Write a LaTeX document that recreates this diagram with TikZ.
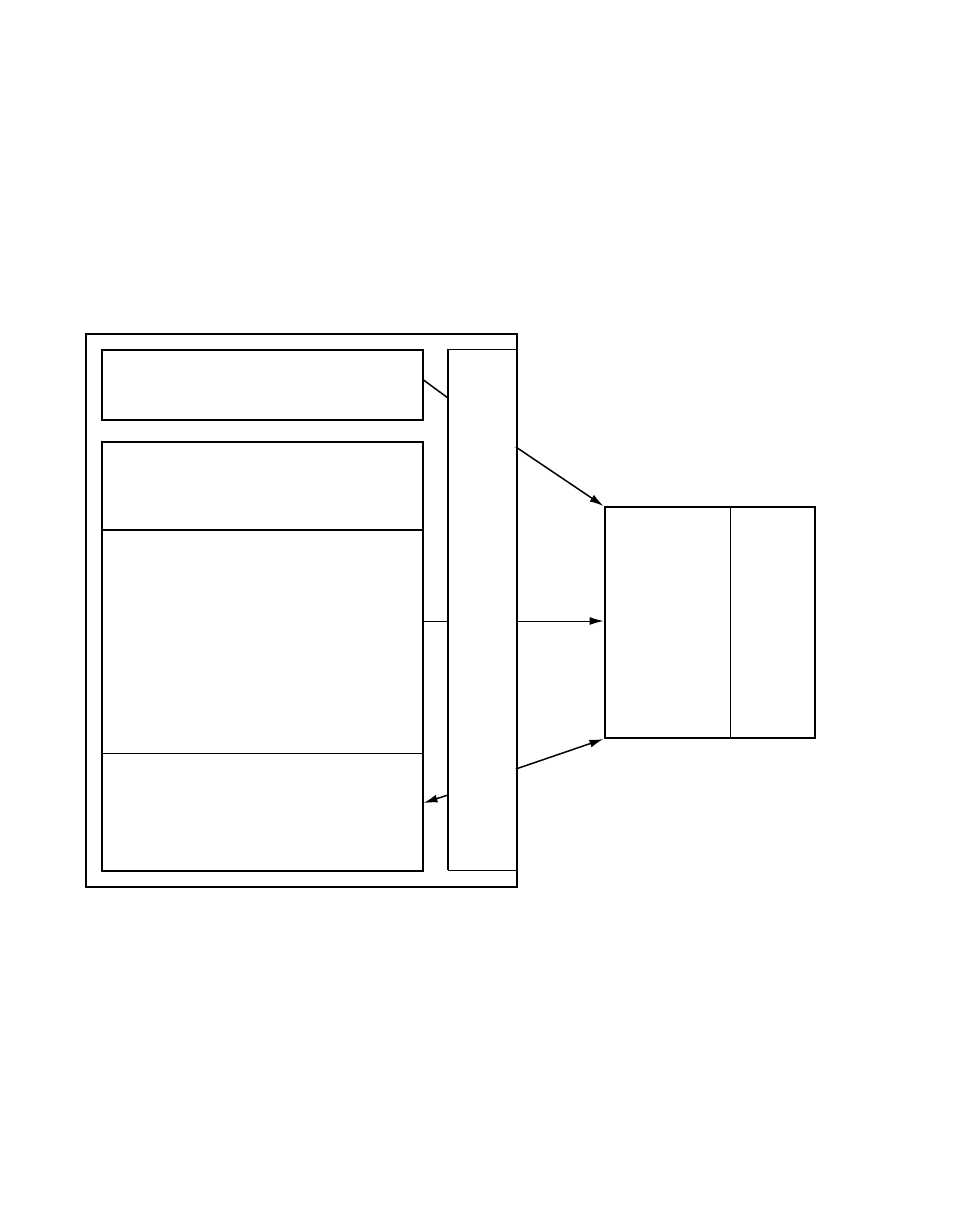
\documentclass[tikz,border=0pt]{standalone}
\usetikzlibrary{arrows.meta,calc}
\begin{document}
\begin{tikzpicture}[x=1bp,y=-1bp,
  box/.style={draw, line width=2bp, rectangle, inner sep=0pt, anchor=north west},
  ghost/.style={rectangle, inner sep=0pt, anchor=north west},
  thinline/.style={line width=1bp},
  midline/.style={line width=1.5bp},
  arr/.style={-{Latex[length=14bp,width=8bp]}}]
\useasboundingbox (0,0) rectangle (954,1227);
\node[box, minimum width=431bp, minimum height=553bp] (outer) at (84.5,333) {};
\node[box, minimum width=321bp, minimum height=70bp] (top) at (100.5,349) {};
\node[box, minimum width=321bp, minimum height=429bp] (big) at (100.5,441) {};
\node[ghost, minimum width=67.5bp, minimum height=521bp] (bus) at (448,349) {};
\node[box, minimum width=210bp, minimum height=231bp] (right) at (603.5,506) {};
% bus edges
\draw[line width=2bp] (bus.north west) -- (bus.south west);
\draw[thinline] (bus.north west) -- (bus.north east);
\draw[thinline] (bus.south west) -- (bus.south east);
% big box dividers
\draw[line width=2bp] ($(big.north west)+(2,89)$) -- ($(big.north east)+(0,89)$);
\draw[thinline] ($(big.north west)+(0,312)$) -- ($(big.north east)+(0,312)$);
% right box divider
\draw[thinline] ($(right.north west)+(127,0)$) -- ($(right.south west)+(127,0)$);
% connectors
\coordinate (src) at ($(bus.north east)+(0,272)$);
\draw[midline] ($(top.north east)+(0,31)$) -- ($(bus.north west)+(0,49)$);
\draw[midline,arr] ($(bus.north east)+(0,98)$) -- (right.north west);
\draw[thinline] ($(big.north east)+(0,180)$) -- ($(bus.north west)+(0,272)$);
\draw[thinline,arr] (src) -- (right.west |- src);
\draw[midline,arr] ($(bus.north east)+(0,420)$) -- (right.south west);
\draw[midline,arr] ($(bus.north west)+(0,446)$) -- ($(big.north east)+(0,362)$);
\end{tikzpicture}
\end{document}
